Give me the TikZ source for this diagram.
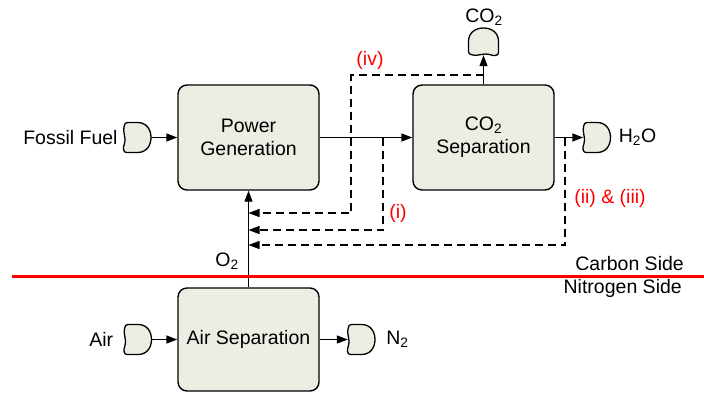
\documentclass[tikz,border=0pt]{standalone}
\usepackage{fontspec}
\setmainfont{Liberation Sans}
\usetikzlibrary{arrows.meta,positioning}
\definecolor{procfill}{RGB}{237,237,227}
\definecolor{sideline}{RGB}{255,0,0}

\begin{document}
\begin{tikzpicture}[x=1pt,y=-1pt,
  font=\fontsize{19.5}{23}\selectfont,
  proc/.style={rectangle,rounded corners=9pt,draw=black,line width=1.4pt,fill=procfill,minimum width=141pt,minimum height=105pt,align=center,inner sep=0pt},
  port/.style={rectangle,inner sep=0pt,minimum width=27pt,minimum height=30pt},
  lbl/.style={inner sep=0pt},
  note/.style={inner sep=0pt,text=red},
  flow/.style={line width=1.4pt,-{Triangle[length=11pt,width=8pt]}},
  recyc/.style={flow,dash pattern=on 8pt off 5pt},
  term/.pic={\draw[line width=1.3pt,fill=procfill,line join=round] (-10,-15) -- (0,-15) .. controls (9,-15) and (13.5,-8) .. (13.5,0) .. controls (13.5,8) and (9,15) .. (0,15) -- (-11,15) .. controls (-14,15) and (-15,11) .. (-13,6) .. controls (-11,1) and (-15,-6) .. (-13.5,-11) .. controls (-13,-14) and (-12,-15) .. (-10,-15) -- cycle;}]
\useasboundingbox (0,0) rectangle (704,392);
% Prozessbloecke
\node[proc] (pg) at (248.5,137.5) {Power\\Generation};
\node[proc] (cs) at (483.5,137.5) {CO\textsubscript{2}\\Separation};
\node[proc,minimum height=103pt] (as) at (248.5,339.5) {Air Separation};
% Ein- und Ausgaenge
\node[port] (fuel) at (137.5,137.5) {};
\node[port] (air) at (138,339.5) {};
\node[port] (ntwo) at (361.5,339.5) {};
\node[port] (water) at (597,137.5) {};
\node[port,minimum width=30pt,minimum height=27pt] (cotwo) at (483.5,41.5) {};
\foreach \p in {fuel,air,ntwo,water} \pic at (\p) {term};
\pic[rotate=90] at (cotwo) {term};
\node[lbl,left=6pt of fuel] {Fossil Fuel};
\node[lbl,left=11pt of air] {Air};
\node[lbl,right=11pt of ntwo] {N\textsubscript{2}};
\node[lbl,right=8pt of water] {H\textsubscript{2}O};
\node[lbl] at (484,17) {CO\textsubscript{2}};
\node[lbl] at (227,261) {O\textsubscript{2}};
% Stoffstroeme
\draw[flow] (fuel) -- (pg);
\draw[flow] (pg) -- (cs);
\draw[flow] (cs) -- (water);
\draw[flow] (cs) -- (cotwo);
\draw[flow] (as) -- (pg);
\draw[flow] (air) -- (as);
\draw[flow] (as) -- (ntwo);
% Rueckfuehrungen
\draw[recyc] (cs.north |- 0,75) -| (351,213) -- (pg.south |- 0,213);
\draw[recyc] (383,137.5) |- (pg.south |- 0,230);
\draw[recyc] (565,137.5) |- (pg.south |- 0,245);
\node[note] at (370,60) {(iv)};
\node[note] at (398,213) {(i)};
\node[note] at (610,198) {(ii) \& (iii)};
% Trennlinie
\draw[line width=2.5pt,sideline] (12,276.7) -- (704,276.7);
\node[lbl,anchor=east] at (684,264) {Carbon Side};
\node[lbl,anchor=east] at (682,288.5) {Nitrogen Side};
\end{tikzpicture}
\end{document}
